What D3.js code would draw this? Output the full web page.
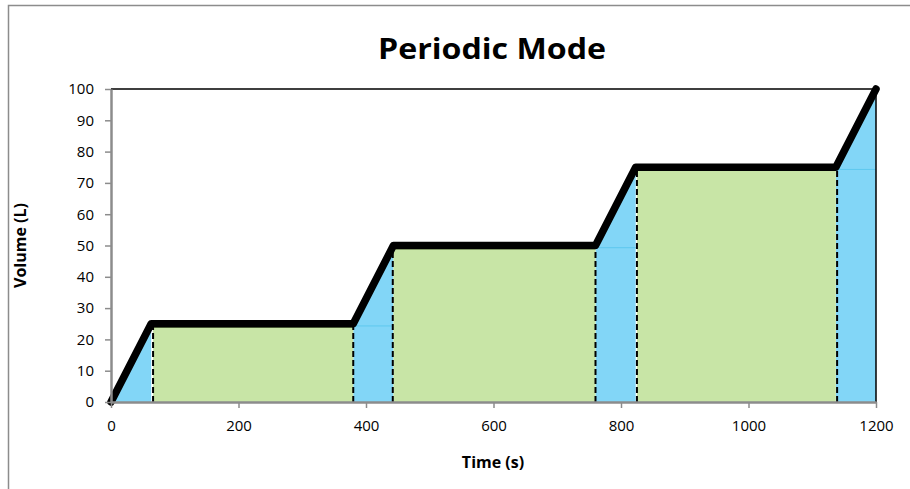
<!DOCTYPE html>
<html>
<head>
<meta charset="utf-8">
<script src="https://cdn.jsdelivr.net/npm/d3@7"></script>
<style>
  body { margin: 0; background: #fff; }
  text { font-family: "Open Sans", "Liberation Sans", sans-serif; }
</style>
</head>
<body>
<div id="container"></div>
<script>
width = 910;
height = 489;

// volume profile (time s, volume L)
const times   = [0, 63, 380, 443, 760, 823, 1137, 1200];
const volumes = [0, 25, 25, 50, 50, 75, 75, 100];
// fill phases (blue) and hold phases (green)
const fillStart = [0, 380, 760, 1137];
const fillEnd   = [63, 443, 823, 1200];
const fillFrom  = [0, 25, 50, 75];
const fillTo    = [25, 50, 75, 100];
const holdStart = [66, 443, 825];
const holdEnd   = [380, 760, 1137];
const holdLevel = [24.3, 49.3, 74.3];
const dashTimes = [66, 380, 442, 760, 825, 1139];
const xTicks = [0, 200, 400, 600, 800, 1000, 1200];
const yTicks = [0, 10, 20, 30, 40, 50, 60, 70, 80, 90, 100];

const margin = {left: 111, right: 34, top: 89, bottom: 87};

const x = d3.scaleLinear().domain([0, 1200]).range([margin.left, width - margin.right]);
const y = d3.scaleLinear().domain([0, 100]).range([height - margin.bottom, margin.top]);

const svg = d3.select("#container").append("svg")
    .attr("width", width)
    .attr("height", height);

// outer chart frame
svg.append("rect")
    .attr("x", 8.5).attr("y", 5.5)
    .attr("width", 1000).attr("height", 1000)
    .attr("fill", "none")
    .attr("stroke", "#8c8c8c")
    .attr("stroke-width", 1.5);

svg.append("text")
    .attr("x", 492).attr("y", 59)
    .attr("text-anchor", "middle")
    .attr("font-size", 29)
    .attr("font-weight", "bold")
    .attr("textLength", 228)
    .attr("lengthAdjust", "spacingAndGlyphs")
    .text("Periodic Mode");

const g = svg.append("g");

// blue fill phases
const fills = d3.range(fillStart.length);
g.selectAll("path.fill")
    .data(fills)
    .enter().append("path")
    .attr("class", "fill")
    .attr("fill", "#82d6f7")
    .attr("d", i => d3.line()([
        [x(fillStart[i]), y(0)],
        [x(fillStart[i]), y(fillFrom[i])],
        [x(fillEnd[i]), y(fillTo[i])],
        [x(fillEnd[i]), y(0)]
    ]));
g.selectAll("line.edge")
    .data(fills)
    .enter().append("line")
    .attr("x1", i => x(fillStart[i]) + 2.5).attr("y1", i => y(fillFrom[i]))
    .attr("x2", i => x(fillEnd[i]) + 2.5).attr("y2", i => y(fillTo[i]))
    .attr("stroke", "#1c6f8c")
    .attr("stroke-width", 1.5);

// faint line at previous level inside fill phases
g.selectAll("line.prev")
    .data(fills.filter(i => fillFrom[i] > 0))
    .enter().append("line")
    .attr("x1", i => x(fillStart[i])).attr("x2", i => x(fillEnd[i]))
    .attr("y1", i => y(fillFrom[i] - 0.7)).attr("y2", i => y(fillFrom[i] - 0.7))
    .attr("stroke", "#5ec8ee")
    .attr("stroke-width", 1);

// green hold phases
const holds = d3.range(holdLevel.length);
g.selectAll("rect.hold")
    .data(holds)
    .enter().append("rect")
    .attr("x", i => x(holdStart[i]))
    .attr("width", i => x(holdEnd[i]) - x(holdStart[i]))
    .attr("y", i => y(holdLevel[i]))
    .attr("height", i => y(0) - y(holdLevel[i]))
    .attr("fill", "#c8e5a6");
g.selectAll("line.holdtop")
    .data(holds)
    .enter().append("line")
    .attr("x1", i => x(holdStart[i])).attr("x2", i => x(holdEnd[i]))
    .attr("y1", i => y(holdLevel[i]) + 0.5).attr("y2", i => y(holdLevel[i]) + 0.5)
    .attr("stroke", "#4f7a28")
    .attr("stroke-width", 2);

// dashed phase boundaries
const levelAt = t => {
    for (let i = 1; i < times.length; i++) {
        if (t <= times[i]) {
            const f = (t - times[i - 1]) / (times[i] - times[i - 1]);
            return volumes[i - 1] + f * (volumes[i] - volumes[i - 1]);
        }
    }
    return volumes[volumes.length - 1];
};
g.selectAll("line.dash")
    .data(dashTimes)
    .enter().append("line")
    .attr("x1", d => x(d)).attr("x2", d => x(d))
    .attr("y1", y(0)).attr("y2", d => y(levelAt(d)) + 3)
    .attr("stroke", "#000")
    .attr("stroke-width", 2)
    .attr("stroke-dasharray", "6,3");

// plot frame (top and right)
svg.append("path")
    .attr("d", `M${x(0)},${y(100)}H${x(1200)}V${y(0)}`)
    .attr("fill", "none")
    .attr("stroke", "#000")
    .attr("stroke-width", 1.5);

// volume line
g.append("path")
    .datum(times.map((t, i) => [t, volumes[i]]))
    .attr("fill", "none")
    .attr("stroke", "#000")
    .attr("stroke-width", 7.5)
    .attr("stroke-linejoin", "round")
    .attr("stroke-linecap", "round")
    .attr("d", d3.line().x(d => x(d[0])).y(d => y(d[1])));

// axes
const xAxis = svg.append("g")
    .attr("transform", `translate(0,${y(0)})`)
    .call(d3.axisBottom(x).tickValues(xTicks).tickFormat(d3.format("d"))
        .tickSize(6).tickSizeOuter(0).tickPadding(12));
const yAxis = svg.append("g")
    .attr("transform", `translate(${x(0)},0)`)
    .call(d3.axisLeft(y).tickValues(yTicks).tickFormat(d3.format("d"))
        .tickSize(6).tickSizeOuter(0).tickPadding(11));
[xAxis, yAxis].forEach(a => {
    a.select(".domain").attr("stroke", "#8c8c8c").attr("stroke-width", 2.5);
    a.selectAll(".tick line").attr("stroke", "#8c8c8c").attr("stroke-width", 1.5);
    a.selectAll(".tick text").attr("font-size", 15).attr("fill", "#000")
        .attr("font-family", "'Open Sans', 'Liberation Sans', sans-serif");
});

svg.append("text")
    .attr("x", 493).attr("y", 468)
    .attr("text-anchor", "middle")
    .attr("font-size", 16)
    .attr("font-weight", "bold")
    .text("Time (s)");

svg.append("text")
    .attr("transform", `translate(26,${(y(0) + y(100)) / 2}) rotate(-90)`)
    .attr("text-anchor", "middle")
    .attr("font-size", 16)
    .attr("font-weight", "bold")
    .text("Volume (L)");
</script>
</body>
</html>
